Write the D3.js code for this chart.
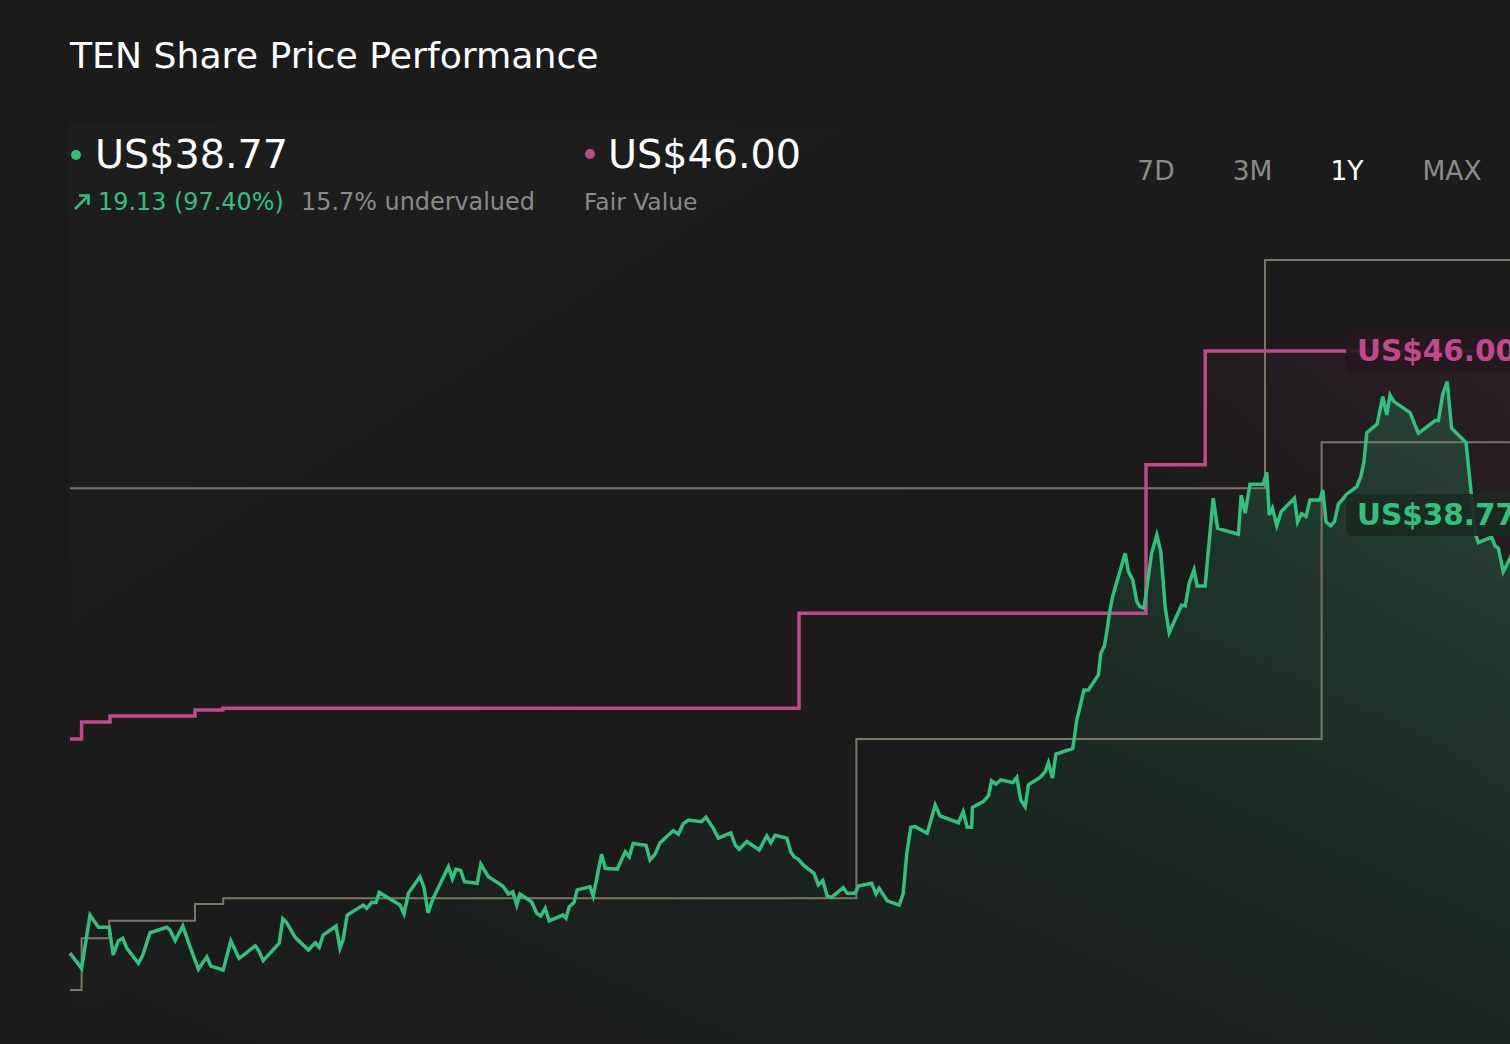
<!DOCTYPE html>
<html>
<head>
<meta charset="utf-8">
<script src="https://cdn.jsdelivr.net/npm/d3@7/dist/d3.min.js"></script>
<style>
  html, body { margin: 0; padding: 0; background: #1b1b1b; overflow: hidden; }
  svg { display: block; font-family: "DejaVu Sans", sans-serif; }
</style>
</head>
<body>
<svg id="chart" width="1510" height="1044"></svg>
<script>
// ---------- DATA ----------
const title = "TEN Share Price Performance";
const lastPrice = 38.77;
const fairValue = 46.00;
const changeText = "19.13 (97.40%)";
const valuationText = "15.7% undervalued";
const fairLabel = "Fair Value";
const rangeButtons = ["7D", "3M", "1Y", "MAX"];
const activeRange = "1Y";

// share price: day offset within the year, price (US$)
const priceDays = [0,2.9,5,7.1,9.8,10.8,12.1,13.2,14.2,17.1,18.2,20,24.2,25,26.3,28.2,30,32.1,34.2,35.2,38.3,40.2,42.3,46.3,47.1,48.3,52.3,53.2,54.2,56.3,59.6,61.3,62.3,63.3,66.5,67.5,68.3,69.3,73.3,74.2,75.4,76.5,77.3,82.5,83.5,84.6,87.5,88.5,89.5,90.8,94.6,95.6,96.5,97.7,98.6,101.8,102.7,104.6,108.2,109.6,110.7,111.7,112.5,115.4,116.7,117.7,118.8,119.8,123.2,124,124.8,126,126.8,130,130.8,132.9,133.8,136.8,138.8,139.8,140.8,144,145,146.3,147.5,150.8,152.1,153.3,154.6,157.9,159,160.8,162.1,165.2,166.3,167.3,169.2,172.3,174.2,175.2,176.3,179.2,180.2,181,182.1,183.3,186,187.1,188.2,189.3,190.4,193.3,194.3,196.3,197.1,200.4,201.5,202.3,204.3,207.3,208.3,209.2,210.2,211.3,214.3,216.3,217.5,222.1,223.3,224.3,225.4,225.6,228.3,229.6,230.4,231.5,232.7,235.7,236.7,237.7,238.8,239.6,242.5,243.8,244.6,245.6,246.5,250.7,251.7,253.5,254.6,257.1,257.7,258.6,259.2,260,260.7,263.8,264.6,265.7,266.7,267.5,268.5,270.4,271.7,272.7,273.8,274.8,277.9,278.8,279.8,281,281.8,283.8,284.6,285.8,286.9,292.1,292.8,293.8,295,298.3,299.2,299.8,300.6,301.7,302.8,306.1,306.9,307.9,309,310,312.5,313.2,314,315.2,316.1,317.1,319.3,321.7,322.7,323.5,324.2,326.8,328.2,329.2,330,331,335,337.1,341.3,342.1,343.2,344.3,345.4,349,350.4,351.3,352.1,354.6,355.4,356.3,357.1,358.3,360,361.5,363,365];
const priceValues = [19.45,18.78,21.13,20.59,20.59,19.37,20.00,20.11,19.67,19.00,19.37,20.35,20.59,20.47,20.00,20.65,19.74,18.74,19.29,18.88,18.71,19.99,19.22,19.77,19.59,19.12,19.89,20.96,20.79,20.15,19.59,19.91,19.71,20.25,20.65,19.67,20.06,21.13,21.57,21.43,21.68,21.68,22.13,21.57,21.18,22.09,22.82,22.35,21.23,21.87,23.26,22.72,23.15,23.09,22.60,22.53,23.38,22.82,22.41,22.06,22.16,21.57,22.06,21.72,21.21,21.09,21.43,20.87,21.13,20.99,21.50,21.68,22.24,22.38,21.97,23.82,23.19,23.15,23.92,23.70,24.29,24.21,23.56,23.82,24.32,24.85,24.70,25.15,25.32,25.25,25.44,24.96,24.52,24.76,24.22,24.03,24.37,24.00,24.62,24.32,24.65,24.52,23.92,23.70,23.59,23.34,22.97,22.46,22.65,21.97,21.91,22.34,22.09,22.09,22.41,22.53,22.06,22.31,21.76,21.57,22.09,23.85,25.00,25.03,24.74,25.98,25.50,25.20,25.69,25.00,25.00,25.88,26.13,26.38,27.05,26.91,27.09,26.97,27.20,26.20,25.91,26.87,27.20,27.45,27.85,27.17,28.23,28.48,29.73,31.05,31.05,31.72,32.67,32.99,33.62,34.58,35.20,37.08,36.27,35.90,34.95,34.73,34.66,37.08,37.89,37.15,34.70,33.58,34.80,34.76,35.76,36.35,35.64,35.64,37.23,39.51,38.18,37.92,39.65,38.85,40.12,40.12,40.65,38.77,39.07,38.30,38.92,39.51,38.46,38.82,38.70,39.43,39.43,39.87,38.47,38.29,38.47,39.25,39.70,40.02,40.46,41.12,42.40,42.78,43.99,43.18,44.06,43.77,43.28,42.37,42.93,42.93,44.11,44.65,42.59,41.96,39.58,37.96,37.55,37.74,37.79,37.40,37.30,36.27,36.86,37.50,38.10,38.77];

// fair value estimate (step line)
const fairDays = [0, 2.9, 10, 31.25, 38.2, 182.25, 269, 283.8, 365];
const fairValues = [28.89, 29.64, 29.91, 30.17, 30.25, 34.44, 40.98, 46.00, 46.00];

// grey reference bands (step lines)
const lowDays = [0, 2.9, 9.8, 31.25, 38.3, 196.6, 312.9, 365];
const lowValues = [17.83, 20.11, 20.88, 21.62, 21.87, 28.89, 41.98, 41.98];
const highDays = [0, 298.75, 365];
const highValues = [39.95, 50.01, 50.01];

// ---------- CHART ----------
const GREEN = "#2fc27e", PINK = "#c2488b", GREY = "#7b7767";
const svg = d3.select("#chart");
const W = 1510, H = 1044;

const x = d3.scaleLinear().domain([0, 365]).range([70, 1530]);
const y = d3.scaleLinear().domain([15, 52]).range([1054.1, 214.9]);

const defs = svg.append("defs");
const bgGrad = defs.append("linearGradient").attr("id", "bgGrad")
  .attr("x1", 0).attr("y1", 0).attr("x2", 1).attr("y2", 1);
bgGrad.append("stop").attr("offset", 0).attr("stop-color", "#ffffff").attr("stop-opacity", 0.012);
bgGrad.append("stop").attr("offset", 0.6).attr("stop-color", "#ffffff").attr("stop-opacity", 0.0);

const gGrad = defs.append("linearGradient").attr("id", "greenGrad")
  .attr("x1", 0).attr("y1", 1).attr("x2", 1).attr("y2", 0);
gGrad.append("stop").attr("offset", 0).attr("stop-color", GREEN).attr("stop-opacity", 0.0);
gGrad.append("stop").attr("offset", 0.45).attr("stop-color", GREEN).attr("stop-opacity", 0.05);
gGrad.append("stop").attr("offset", 1).attr("stop-color", GREEN).attr("stop-opacity", 0.22);

const pGrad = defs.append("linearGradient").attr("id", "pinkGrad")
  .attr("x1", 0).attr("y1", 0.6).attr("x2", 1).attr("y2", 0);
pGrad.append("stop").attr("offset", 0).attr("stop-color", PINK).attr("stop-opacity", 0.0);
pGrad.append("stop").attr("offset", 0.7).attr("stop-color", PINK).attr("stop-opacity", 0.0);
pGrad.append("stop").attr("offset", 1).attr("stop-color", PINK).attr("stop-opacity", 0.1);

svg.append("rect").attr("width", W).attr("height", H).attr("fill", "#1b1b1b");
svg.append("rect").attr("x", 68).attr("y", 123).attr("width", W - 68).attr("height", H - 123)
  .attr("fill", "url(#bgGrad)");

const price = priceDays.map((d, i) => ({ d, v: priceValues[i] }));
const fair = fairDays.map((d, i) => ({ d, v: fairValues[i] }));
const low = lowDays.map((d, i) => ({ d, v: lowValues[i] }));
const high = highDays.map((d, i) => ({ d, v: highValues[i] }));

const bottom = H;

// fair value area
svg.append("path").datum(fair)
  .attr("fill", "url(#pinkGrad)")
  .attr("d", d3.area().curve(d3.curveStepAfter).x(p => x(p.d)).y0(bottom).y1(p => y(p.v)));

// price area
svg.append("path").datum(price)
  .attr("fill", "url(#greenGrad)")
  .attr("d", d3.area().x(p => x(p.d)).y0(bottom).y1(p => y(p.v)));

const stepLine = d3.line().curve(d3.curveStepAfter).x(p => x(p.d)).y(p => y(p.v));

svg.append("path").datum(high).attr("fill", "none").attr("stroke", GREY)
  .attr("stroke-width", 2).attr("d", stepLine);
svg.append("path").datum(low).attr("fill", "none").attr("stroke", GREY)
  .attr("stroke-width", 2).attr("d", stepLine);

svg.append("path").datum(fair).attr("fill", "none").attr("stroke", PINK)
  .attr("stroke-width", 3.5).attr("d", stepLine);

svg.append("path").datum(price).attr("fill", "none").attr("stroke", GREEN)
  .attr("stroke-width", 3.5).attr("stroke-linejoin", "miter")
  .attr("d", d3.line().x(p => x(p.d)).y(p => y(p.v)));

// end labels
function endLabel(value, color, fill) {
  const cy = y(value);
  svg.append("rect").attr("x", 1346).attr("y", cy - 21).attr("width", 200).attr("height", 42)
    .attr("rx", 5).attr("fill", fill).attr("fill-opacity", 0.92);
  svg.append("text").attr("x", 1357).attr("y", cy + 10.5)
    .attr("fill", color).attr("font-size", 29.5).attr("font-weight", "bold")
    .text("US$" + value.toFixed(2));
}
endLabel(fairValue, PINK, "#231a20");
endLabel(lastPrice, GREEN, "#1b2a22");

// ---------- HEADER ----------
svg.append("text").attr("x", 70).attr("y", 68).attr("fill", "#ffffff")
  .attr("font-size", 36.2).text(title);

svg.append("circle").attr("cx", 76).attr("cy", 155).attr("r", 5).attr("fill", GREEN);
svg.append("text").attr("x", 95).attr("y", 168).attr("fill", "#ffffff")
  .attr("font-size", 39.7).text("US$" + lastPrice.toFixed(2));

svg.append("path").attr("d", "M75,209 L88,196 M79,195.5 L88.5,195.5 L88.5,205")
  .attr("stroke", GREEN).attr("stroke-width", 2.6).attr("fill", "none");
svg.append("text").attr("x", 98).attr("y", 210).attr("fill", GREEN)
  .attr("font-size", 23.9).text(changeText);
svg.append("text").attr("x", 301).attr("y", 210).attr("fill", "#8a8a8a")
  .attr("font-size", 23.9).text(valuationText);

svg.append("circle").attr("cx", 590).attr("cy", 154).attr("r", 5).attr("fill", PINK);
svg.append("text").attr("x", 608).attr("y", 168).attr("fill", "#ffffff")
  .attr("font-size", 39.7).text("US$" + fairValue.toFixed(2));
svg.append("text").attr("x", 584).attr("y", 210).attr("fill", "#8a8a8a")
  .attr("font-size", 23.4).text(fairLabel);

const btnX = d3.scaleOrdinal().domain(rangeButtons).range([1156, 1252.5, 1347, 1452]);
svg.selectAll("text.btn").data(rangeButtons).enter().append("text")
  .attr("class", "btn")
  .attr("x", d => btnX(d)).attr("y", 180).attr("text-anchor", "middle")
  .attr("font-size", 26.5)
  .attr("fill", d => d === activeRange ? "#ffffff" : "#8a8a8a")
  .text(d => d);
</script>
</body>
</html>
